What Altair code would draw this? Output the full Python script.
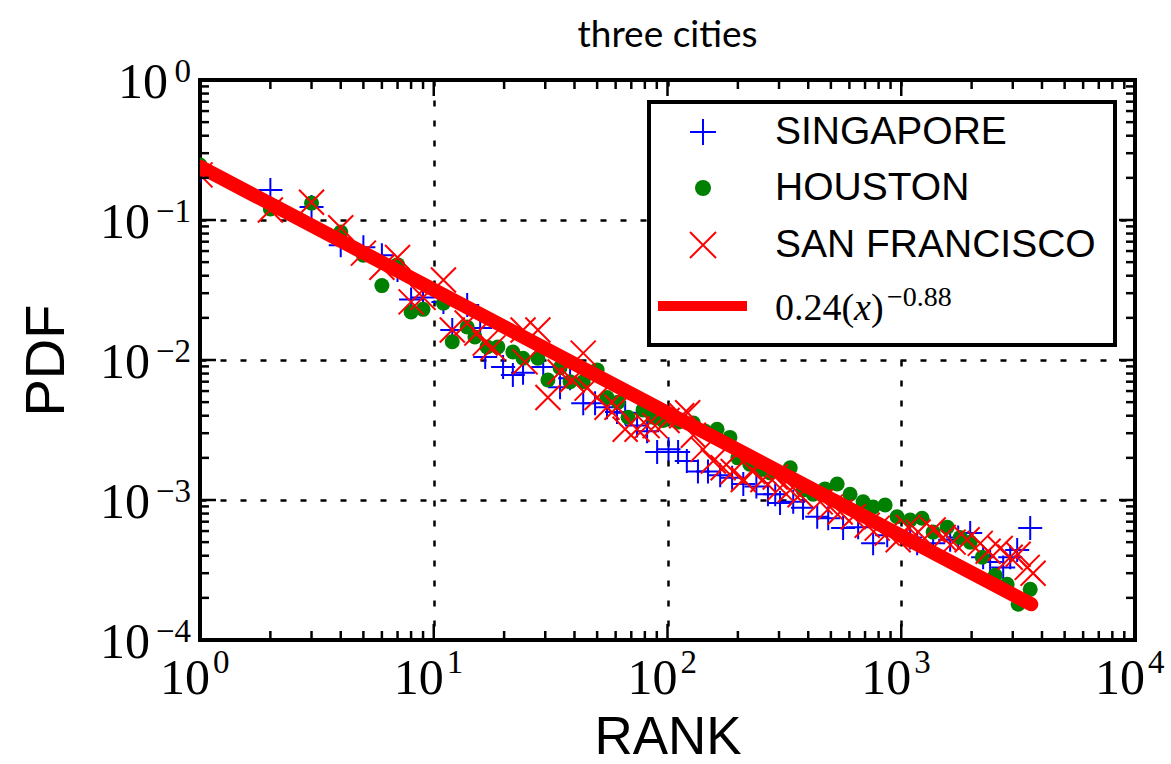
import altair as alt
import pandas as pd

# ---------------- data ----------------
sg_rank = [1, 2, 3, 4, 5, 6, 7, 8, 9, 11, 12, 13.9, 15.8, 16.6, 19.8, 21.8, 24.1, 29.4, 34.7,
           38.3, 43.6, 49, 55.1, 60.8, 65.9, 74.1, 81.8, 90.3, 101, 111, 121, 135, 149, 168,
           189, 211, 240, 269, 289, 303, 345, 380, 437, 487, 564, 654, 758, 871, 1092, 1170,
           1369, 1619, 1752, 1972, 2240, 2400, 2730, 2925, 3133, 3562]
sg_pdf = [0.228, 0.164, 0.124, 0.066, 0.064, 0.056, 0.044, 0.027, 0.028, 0.026, 0.0164, 0.0247,
          0.0169, 0.0105, 0.0089, 0.0078, 0.0081, 0.0089, 0.0064, 0.0074, 0.0049, 0.0049,
          0.0046, 0.00425, 0.0042, 0.0034, 0.0031, 0.0022, 0.0023, 0.0022, 0.0019, 0.0016,
          0.0016, 0.0015, 0.00144, 0.0013, 0.00125, 0.0011, 0.0011, 0.00095, 0.00097, 0.00088,
          0.00076, 0.00074, 0.00063, 0.00064, 0.00049, 0.00056, 0.00054, 0.00049, 0.00049,
          0.00052, 0.00054, 0.00058, 0.00039, 0.00036, 0.00033, 0.00039, 0.00044, 0.00063]

hou_rank = [1, 2, 3, 4, 5, 6, 7, 8, 9, 11, 12, 13.9, 15, 16.9, 18.8, 21.8, 24.1, 27.9, 30.8,
            34.7, 38.3, 43.6, 50, 55.1, 61.5, 67.8, 78.6, 86.7, 95.7, 111, 129, 145, 163, 185,
            200, 225, 249, 275, 335, 380, 420, 472, 532, 604, 687, 758, 853, 960, 1092, 1228,
            1369, 1572, 1787, 1972, 2220, 2522, 2838, 3163, 3562]
hou_pdf = [0.247, 0.120, 0.132, 0.082, 0.056, 0.034, 0.048, 0.022, 0.023, 0.0255, 0.0135,
           0.0172, 0.0146, 0.0124, 0.0124, 0.0114, 0.0103, 0.0103, 0.0072, 0.0088, 0.0070,
           0.0070, 0.0085, 0.0054, 0.0050, 0.0039, 0.0044, 0.0039, 0.0037, 0.0036, 0.00355,
           0.0031, 0.0032, 0.0028, 0.0020, 0.0018, 0.00164, 0.00156, 0.0017, 0.00118, 0.0011,
           0.0012, 0.0013, 0.0011, 0.00097, 0.00089, 0.00092, 0.00076, 0.00072, 0.00074,
           0.00059, 0.00064, 0.00054, 0.0005, 0.00039, 0.00029, 0.00025, 0.00018, 0.00023]

sf_rank = [1, 2, 3, 4, 5, 6, 7, 8, 9, 11, 12, 13.9, 15.3, 16.6, 17.9, 24.1, 24.6, 27.9, 30.8,
           34.7, 39.1, 43.6, 45.3, 50, 55.1, 60.8, 65.9, 74.1, 81.8, 88.5, 99.6, 115, 122, 129,
           142, 157, 173, 191, 211, 232, 256, 289, 303, 335, 369, 450, 497, 548, 623, 715, 789,
           871, 970, 1070, 1181, 1369, 1511, 1667, 1914, 2177, 2353, 2649, 2925, 3163, 3458, 3665]
sf_pdf = [0.21, 0.118, 0.134, 0.088, 0.058, 0.046, 0.054, 0.026, 0.028, 0.0373, 0.0164, 0.0184,
          0.0156, 0.0132, 0.0122, 0.0164, 0.0097, 0.0164, 0.0054, 0.0082, 0.0072, 0.0112,
          0.0063, 0.0054, 0.0046, 0.0046, 0.0032, 0.0032, 0.0034, 0.0034, 0.0037, 0.0040,
          0.0042, 0.0029, 0.0023, 0.0019, 0.0017, 0.0016, 0.0014, 0.0016, 0.0014, 0.00146,
          0.00122, 0.00118, 0.00109, 0.00097, 0.00089, 0.00082, 0.00076, 0.00066, 0.00063,
          0.00058, 0.00052, 0.00064, 0.00059, 0.00061, 0.00054, 0.0005, 0.00052, 0.00049,
          0.00043, 0.00045, 0.00039, 0.00041, 0.00033, 0.0003]

fit_rank = [1, 3600]
fit_pdf = [0.24, 0.00018]

x_ticks = [1, 10, 100, 1000, 10000]
x_tick_exps = ["0", "1", "2", "3", "4"]
y_ticks = [1, 0.1, 0.01, 0.001, 0.0001]
y_tick_exps = ["0", "−1", "−2", "−3", "−4"]
tick_base = "10"
minor_mult = [2, 3, 4, 5, 6, 7, 8, 9]

chart_title = "three cities"
x_title = "RANK"
y_title = "PDF"
legend_labels = ["SINGAPORE", "HOUSTON", "SAN FRANCISCO"]
fit_text = ["0.24(", "x", ")", "−0.88"]

# ---------------- layout / style ----------------
W, H = 935, 560
PLUS = "M-1,0L1,0M0,-1L0,1"
XMARK = "M-1,-1L1,1M-1,1L1,-1"
SERIF = "Liberation Serif"
SANS = "Liberation Sans"
BASE_FS, EXP_FS = 50, 33

xs = alt.Scale(type="log", domain=[1, 10000])
ys = alt.Scale(type="log", domain=[0.0001, 1])

sg = pd.DataFrame({"rank": sg_rank, "pdf": sg_pdf})
hou = pd.DataFrame({"rank": hou_rank, "pdf": hou_pdf})
sf = pd.DataFrame({"rank": sf_rank, "pdf": sf_pdf})
fit = pd.DataFrame({"rank": fit_rank, "pdf": fit_pdf})

x_axis = alt.Axis(values=x_ticks, labels=False, grid=True, gridColor="black",
                  gridDash=[6, 14], gridWidth=2.5, ticks=False, domain=False,
                  title=x_title, titleFont=SANS, titleFontSize=53, titleFontWeight="normal",
                  titleColor="black", titleX=W / 2, titleY=113, titleBaseline="alphabetic",
                  titleAlign="center")
y_axis = alt.Axis(values=y_ticks, labels=False, grid=True, gridColor="black",
                  gridDash=[6, 14], gridWidth=2.5, ticks=False, domain=False,
                  title=y_title, titleFont=SANS, titleFontSize=56, titleFontWeight="normal",
                  titleColor="black", titleX=-137, titleY=H / 2, titleBaseline="alphabetic",
                  titleAlign="center", titleAngle=270)

px = alt.X("rank:Q", scale=xs, axis=x_axis)
py = alt.Y("pdf:Q", scale=ys, axis=y_axis)

sg_layer = alt.Chart(sg).mark_point(shape=PLUS, filled=False, color="blue", strokeWidth=2,
                                    size=576, opacity=1, clip=True).encode(x=px, y=py)
hou_layer = alt.Chart(hou).mark_point(shape="circle", filled=True, color="green", size=225,
                                      opacity=1, clip=True).encode(x=px, y=py)
sf_layer = alt.Chart(sf).mark_point(shape=XMARK, filled=False, color="red", strokeWidth=2,
                                    size=625, opacity=1, clip=True).encode(x=px, y=py)
fit_layer = alt.Chart(fit).mark_line(color="red", strokeWidth=14, strokeCap="round",
                                     clip=True).encode(x=px, y=py)

# ticks (inward, on all four sides)
xmaj = pd.DataFrame({"v": x_ticks, "exp": x_tick_exps, "base": tick_base})
xmin = pd.DataFrame({"v": [m * d for d in x_ticks[:-1] for m in minor_mult]})
ymaj = pd.DataFrame({"v": y_ticks, "exp": y_tick_exps, "base": tick_base})
ymin = pd.DataFrame({"v": [m * d for d in y_ticks[1:] for m in minor_mult]})
MAJ, MIN = 16, 9
vx = alt.X("v:Q", scale=xs, axis=x_axis)
vy = alt.Y("v:Q", scale=ys, axis=y_axis)


def xticks(df, L):
    b = alt.Chart(df).mark_rule(color="black", strokeWidth=2.5).encode(
        x=vx, y=alt.value(H), y2=alt.value(H - L))
    t = alt.Chart(df).mark_rule(color="black", strokeWidth=2.5).encode(
        x=vx, y=alt.value(0), y2=alt.value(L))
    return [b, t]


def yticks(df, L):
    l = alt.Chart(df).mark_rule(color="black", strokeWidth=2.5).encode(
        y=vy, x=alt.value(0), x2=alt.value(L))
    r = alt.Chart(df).mark_rule(color="black", strokeWidth=2.5).encode(
        y=vy, x=alt.value(W - L), x2=alt.value(W))
    return [l, r]


tick_layers = xticks(xmaj, MAJ) + xticks(xmin, MIN) + yticks(ymaj, MAJ) + yticks(ymin, MIN)

# tick labels 10^n (base + raised exponent)
xl_base = alt.Chart(xmaj).mark_text(align="right", baseline="alphabetic", dx=10, font=SERIF,
                                    fontSize=BASE_FS, color="black").encode(
    x=vx, y=alt.value(H + 54), text="base:N")
xl_exp = alt.Chart(xmaj).mark_text(align="left", baseline="alphabetic", dx=13, font=SERIF,
                                   fontSize=EXP_FS, color="black").encode(
    x=vx, y=alt.value(H + 33), text="exp:N")
yl_exp = alt.Chart(ymaj).mark_text(align="right", baseline="alphabetic", dy=2, font=SERIF,
                                   fontSize=EXP_FS, color="black").encode(
    y=vy, x=alt.value(-9), text="exp:N")
yl_base0 = alt.Chart(ymaj).transform_filter("datum.v == 1").mark_text(
    align="right", baseline="alphabetic", dy=18, font=SERIF, fontSize=BASE_FS,
    color="black").encode(y=vy, x=alt.value(-32), text="base:N")
yl_base1 = alt.Chart(ymaj).transform_filter("datum.v < 1").mark_text(
    align="right", baseline="alphabetic", dy=18, font=SERIF, fontSize=BASE_FS,
    color="black").encode(y=vy, x=alt.value(-50), text="base:N")
label_layers = [xl_base, xl_exp, yl_exp, yl_base0, yl_base1]

# legend (drawn inside the plot, upper right)
one = pd.DataFrame({"k": [0]})
LX0, LX1, LY0, LY1 = 449, 915, 22, 265
SYM_X, TXT_X = 503, 575
ROWS = [52, 108, 165, 226]
leg_box = alt.Chart(one).mark_rect(fill="white", stroke="black", strokeWidth=4).encode(
    x=alt.value(LX0), x2=alt.value(LX1), y=alt.value(LY0), y2=alt.value(LY1))
leg_sg = alt.Chart(one).mark_point(shape=PLUS, filled=False, color="blue", strokeWidth=2,
                                   size=676, opacity=1).encode(x=alt.value(SYM_X), y=alt.value(ROWS[0]))
leg_hou = alt.Chart(one).mark_point(shape="circle", filled=True, color="green", size=256,
                                    opacity=1).encode(x=alt.value(SYM_X), y=alt.value(ROWS[1]))
leg_sf = alt.Chart(one).mark_point(shape=XMARK, filled=False, color="red", strokeWidth=2,
                                   size=676, opacity=1).encode(x=alt.value(SYM_X), y=alt.value(ROWS[2]))
leg_fit = alt.Chart(one).mark_rule(color="red", strokeWidth=10).encode(
    x=alt.value(458), x2=alt.value(547), y=alt.value(ROWS[3]))
leg_txt = [
    alt.Chart(one).mark_text(align="left", baseline="middle", font=SANS, fontSize=39,
                             color="black").encode(x=alt.value(TXT_X), y=alt.value(ROWS[i]),
                                                   text=alt.value(legend_labels[i]))
    for i in range(3)
]
f_base = 240
leg_formula = [
    alt.Chart(one).mark_text(align="left", baseline="alphabetic", font=SERIF, fontSize=38,
                             color="black").encode(x=alt.value(TXT_X), y=alt.value(f_base),
                                                   text=alt.value(fit_text[0])),
    alt.Chart(one).mark_text(align="left", baseline="alphabetic", font=SERIF, fontSize=38,
                             fontStyle="italic", color="black").encode(
        x=alt.value(TXT_X + 79), y=alt.value(f_base), text=alt.value(fit_text[1])),
    alt.Chart(one).mark_text(align="left", baseline="alphabetic", font=SERIF, fontSize=38,
                             color="black").encode(x=alt.value(TXT_X + 96), y=alt.value(f_base),
                                                   text=alt.value(fit_text[2])),
    alt.Chart(one).mark_text(align="left", baseline="alphabetic", font=SERIF, fontSize=28,
                             color="black").encode(x=alt.value(TXT_X + 112), y=alt.value(f_base - 14),
                                                   text=alt.value(fit_text[3])),
]

chart = alt.layer(
    sg_layer, hou_layer, sf_layer, fit_layer, *tick_layers, *label_layers,
    leg_box, leg_sg, leg_hou, leg_sf, leg_fit, *leg_txt, *leg_formula
).properties(
    width=W, height=H,
    background="white",
    title=alt.Title(chart_title, font="Lato", fontSize=37, fontWeight="normal", color="black",
                    anchor="middle", frame="group", offset=30, dy=29),
    autosize=alt.AutoSizeParams(type="none"),
    padding={"left": 200, "top": 80, "right": 36, "bottom": 124},
).configure_view(stroke="black", strokeWidth=4)

chart.save("out.html", embed_options={"renderer": "svg", "actions": False})
